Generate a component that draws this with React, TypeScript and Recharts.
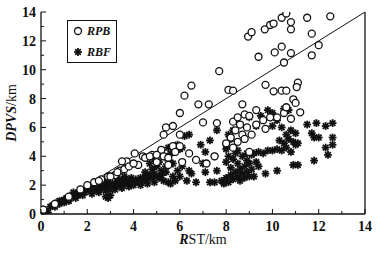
import React from "react";
import { ScatterChart, Scatter, XAxis, YAxis, ReferenceLine } from "recharts";

const axisTicks = [0, 1, 2, 3, 4, 5, 6, 7, 8, 9, 10, 11, 12, 13, 14];
const diagonal = [{ x: 0, y: 0 }, { x: 14, y: 14 }];

const rpb: [number, number][] = [
  [10.4, 13.6], [10.6, 13.9], [11.5, 13.6], [12.5, 13.7], [10.8, 13.3], [10.8, 12.8],
  [9.67, 12.8], [9.9, 13.1], [10.05, 13.2], [8.95, 12.3], [9.1, 12.6], [11.7, 12.5],
  [12.0, 11.7], [10.4, 11.6], [10.1, 11.2], [10.8, 11.15], [11.7, 11.0], [9.4, 10.9],
  [10.5, 10.5], [7.7, 9.9], [6.5, 8.9], [6.2, 8.2], [6.0, 7.0], [6.8, 7.6], [7.25, 7.6],
  [8.1, 8.6], [8.3, 8.55], [9.7, 8.95], [10.05, 8.5], [10.4, 8.55], [10.6, 8.55],
  [11.1, 9.1], [11.05, 8.8], [10.9, 7.95], [11.0, 7.7], [11.2, 7.05], [10.8, 6.6],
  [8.7, 7.6], [9.3, 7.2], [6.0, 5.5], [5.4, 6.0], [5.7, 6.1], [5.3, 5.5], [7.0, 6.35],
  [7.6, 6.3], [4.05, 4.2], [3.7, 3.65], [3.5, 3.65], [4.2, 3.4], [4.4, 4.0], [4.8, 4.1],
  [5.2, 4.45], [5.7, 4.7], [6.0, 4.7], [6.7, 3.75], [7.15, 3.5], [7.5, 4.0], [6.4, 4.2],
  [8.3, 6.4], [8.5, 6.7], [8.8, 6.9], [9.0, 6.8], [8.6, 6.2], [8.9, 6.0], [8.4, 5.8],
  [8.7, 5.5], [9.1, 5.5], [8.2, 5.3], [8.5, 5.0], [8.0, 4.9], [8.8, 5.2], [9.3, 6.2],
  [9.6, 6.5], [9.9, 6.7], [10.2, 6.7], [10.5, 7.0], [10.6, 7.4], [9.7, 5.9], [9.0, 4.3],
  [8.3, 4.6], [2.0, 2.0], [2.3, 2.2], [2.6, 2.4], [2.9, 2.6], [3.2, 2.7], [3.4, 3.0],
  [3.6, 3.1], [3.8, 3.3], [3.3, 2.9], [4.5, 3.9], [4.7, 4.0], [5.0, 4.1], [5.3, 4.0],
  [5.5, 3.9], [5.8, 4.3], [5.0, 3.6], [5.5, 3.4], [6.1, 3.6], [4.0, 3.5], [3.0, 2.6],
  [2.5, 2.3], [1.7, 1.7], [1.2, 1.2], [0.6, 0.7], [0.1, 0.3],
];

const rbf: [number, number][] = [
  [0.05, 0.1], [0.1, 0.3], [0.2, 0.2], [0.3, 0.1], [0.15, 0.05],
  [0.4, 0.5], [0.5, 0.6], [0.6, 0.7], [0.7, 0.8], [0.8, 0.9], [0.9, 0.9], [1.0, 1.0], [0.8, 0.7], [1.0, 0.8], [0.6, 0.5],
  [1.1, 1.1], [1.2, 1.0], [1.3, 1.2], [1.4, 1.3], [1.5, 1.4], [1.6, 1.3], [1.7, 1.5], [1.8, 1.6], [1.9, 1.5], [2.0, 1.7],
  [1.2, 0.9], [1.5, 1.1], [1.8, 1.3], [1.4, 1.5], [1.7, 1.7],
  [2.1, 1.8], [2.2, 1.6], [2.3, 1.9], [2.4, 1.7], [2.5, 2.0], [2.6, 1.8], [2.7, 2.1], [2.8, 1.9], [2.9, 2.2], [3.0, 2.0],
  [2.2, 1.4], [2.5, 1.5], [2.8, 1.6], [3.0, 1.7], [2.9, 1.1], [2.8, 1.2], [3.0, 1.3], [2.4, 2.1], [2.7, 2.3],
  [3.1, 2.1], [3.2, 1.9], [3.3, 2.2], [3.4, 2.0], [3.5, 2.3], [3.6, 2.1], [3.7, 2.4], [3.8, 2.2], [3.9, 2.5], [4.0, 2.3],
  [3.2, 1.7], [3.5, 1.8], [3.8, 1.9], [4.0, 2.0], [3.6, 2.6], [3.3, 2.5],
  [4.1, 2.4], [4.2, 2.2], [4.3, 2.5], [4.4, 2.3], [4.5, 2.6], [4.6, 2.4], [4.7, 2.7], [4.8, 2.5], [4.9, 2.8], [5.0, 2.6],
  [4.3, 2.0], [4.6, 2.1], [4.9, 2.2], [4.5, 2.9], [4.8, 3.1], [5.0, 3.3], [4.7, 3.5], [4.9, 3.8],
  [5.1, 2.5], [5.2, 2.7], [5.3, 2.3], [5.4, 2.9], [5.5, 2.2], [5.6, 2.1], [5.8, 2.3], [5.2, 3.0], [5.4, 3.3], [5.1, 3.6],
  [5.5, 3.7], [5.3, 4.0], [5.6, 4.2], [5.2, 4.4], [5.5, 4.6], [5.7, 3.5], [5.9, 3.0], [6.0, 2.6], [5.8, 4.4], [5.9, 4.8], [5.7, 2.6],
  [6.0, 4.5], [6.1, 3.3], [6.2, 5.4], [6.4, 5.5], [6.5, 2.8], [6.3, 2.3], [6.7, 2.2], [6.9, 4.8], [7.1, 4.3], [7.0, 3.5],
  [7.1, 2.9], [7.3, 2.2], [7.5, 2.2], [7.6, 5.8], [7.3, 5.1], [7.6, 3.0], [7.5, 4.0], [6.1, 4.6], [6.4, 3.0],
  [7.8, 2.3], [7.9, 2.1], [8.0, 2.5], [8.1, 2.2], [8.2, 2.7], [8.3, 2.4], [8.4, 2.9], [8.5, 2.6], [8.6, 3.1], [8.7, 2.8],
  [8.8, 3.3], [8.9, 2.9], [9.0, 3.5], [9.1, 3.1], [9.2, 2.6], [8.2, 3.2], [8.0, 3.6], [8.3, 3.8], [8.5, 3.5], [8.7, 4.0],
  [8.9, 3.7], [9.1, 4.1], [9.3, 3.6], [8.4, 4.2], [8.1, 4.0], [8.6, 2.3], [8.8, 2.5], [9.4, 3.3], [9.0, 2.6], [8.5, 4.4],
  [8.9, 4.2], [8.0, 4.5], [8.2, 5.2], [8.1, 5.5], [8.3, 5.8], [8.0, 4.8],
  [9.2, 4.2], [9.4, 4.3], [9.6, 4.2], [9.8, 4.4], [10.0, 4.4], [10.2, 4.5], [10.4, 4.4], [10.6, 4.6], [10.8, 4.3], [10.5, 4.9],
  [10.7, 5.2], [10.9, 5.0], [11.0, 4.8], [10.6, 5.5], [10.8, 5.8], [11.0, 5.6], [10.4, 6.0], [10.0, 6.1], [10.2, 6.5], [9.0, 6.7],
  [9.5, 6.8], [9.8, 7.2], [10.0, 7.0], [10.5, 7.3], [10.7, 7.2], [9.3, 6.1], [9.7, 2.8], [10.2, 3.0], [10.9, 3.4], [11.1, 3.4],
  [11.8, 3.7], [11.5, 6.2], [11.9, 6.3], [12.3, 6.1], [12.6, 6.3], [11.7, 5.6], [11.8, 5.3], [12.0, 5.3], [12.6, 5.3], [12.6, 4.8],
  [12.3, 4.6], [12.4, 4.1], [11.1, 4.9], [10.3, 5.1],
];

const rpbData = rpb.map(([x, y]) => ({ x, y }));
const rbfData = rbf.map(([x, y]) => ({ x, y }));

const serif = "'Liberation Serif', 'DejaVu Serif', serif";

function OpenCircle(props: any) {
  const { cx, cy } = props;
  return <circle cx={cx} cy={cy} r={3.5} fill="#fff" stroke="#111" strokeWidth={1.3} />;
}

function Asterisk(props: any) {
  const { cx, cy } = props;
  const r = 3.9;
  const d = r * 0.72;
  return (
    <g stroke="#111" strokeWidth={1.8}>
      <line x1={cx - r} y1={cy} x2={cx + r} y2={cy} />
      <line x1={cx} y1={cy - r} x2={cx} y2={cy + r} />
      <line x1={cx - d} y1={cy - d} x2={cx + d} y2={cy + d} />
      <line x1={cx - d} y1={cy + d} x2={cx + d} y2={cy - d} />
    </g>
  );
}

// tick marks drawn inward, labels only on even values
function makeTick(side: "left" | "bottom" | "right" | "top") {
  return (props: any) => {
    const { x, y, payload } = props;
    const v = payload.value as number;
    const len = v % 2 === 0 ? 5 : 3;
    const label = v % 2 === 0 && (side === "left" || side === "bottom");
    if (side === "left") {
      const ax = x + 4;
      return (
        <g>
          <line x1={ax} y1={y} x2={ax + len} y2={y} stroke="#111" strokeWidth={1} />
          {label && (
            <text x={x - 1} y={y} dy={5} textAnchor="end" fontFamily={serif} fontWeight="bold" fontSize={14} fill="#111">
              {v}
            </text>
          )}
        </g>
      );
    }
    if (side === "bottom") {
      const ay = y - 4;
      return (
        <g>
          <line x1={x} y1={ay} x2={x} y2={ay - len} stroke="#111" strokeWidth={1} />
          {label && (
            <text x={x} y={y} dy={13} textAnchor="middle" fontFamily={serif} fontWeight="bold" fontSize={14} fill="#111">
              {v}
            </text>
          )}
        </g>
      );
    }
    if (side === "right") {
      const ax = x - 4;
      return <line x1={ax} y1={y} x2={ax - len} y2={y} stroke="#111" strokeWidth={1} />;
    }
    const ay = y + 4;
    return <line x1={x} y1={ay} x2={x} y2={ay + len} stroke="#111" strokeWidth={1} />;
  };
}

function XTitle(props: any) {
  const { viewBox } = props;
  const cx = viewBox.x + viewBox.width / 2;
  return (
    <text x={cx} y={viewBox.y + 30} textAnchor="middle" fontFamily={serif} fontSize={14} fill="#111">
      <tspan fontStyle="italic" fontWeight="bold">R</tspan>
      <tspan>ST/km</tspan>
    </text>
  );
}

function YTitle(props: any) {
  const { viewBox } = props;
  const cy = viewBox.y + viewBox.height / 2;
  const x = 16;
  return (
    <text x={x} y={cy} transform={`rotate(-90 ${x} ${cy})`} textAnchor="middle" fontFamily={serif} fontSize={14} fill="#111">
      <tspan fontStyle="italic" fontWeight="bold">DPVS</tspan>
      <tspan>/km</tspan>
    </text>
  );
}

function LegendBox() {
  return (
    <div
      style={{
        position: "absolute",
        left: 67,
        top: 20,
        width: 50,
        height: 43,
        border: "1px solid #111",
        background: "#fff",
        fontFamily: serif,
        fontWeight: "bold",
        fontStyle: "italic",
        fontSize: 12,
        color: "#111",
        boxSizing: "border-box",
      }}
    >
      <svg width={14} height={40} style={{ position: "absolute", left: 3, top: 0 }}>
        <OpenCircle cx={7} cy={10} />
        <Asterisk cx={7} cy={31} />
      </svg>
      <div style={{ position: "absolute", left: 19, top: 3 }}>RPB</div>
      <div style={{ position: "absolute", left: 19, top: 24 }}>RBF</div>
    </div>
  );
}

export default function App() {
  return (
    <div style={{ position: "absolute", left: 0, top: 0, width: 392, height: 254, background: "#fff" }}>
      <ScatterChart width={392} height={254} margin={{ top: 12, right: 26, left: 5, bottom: 0 }}>
        <XAxis
          xAxisId="b"
          type="number"
          dataKey="x"
          domain={[0, 14]}
          ticks={axisTicks}
          interval={0}
          tickSize={0}
          tickMargin={4}
          tick={makeTick("bottom")}
          axisLine={{ stroke: "#111", strokeWidth: 1.3 }}
          height={40}
          allowDataOverflow
          label={<XTitle />}
        />
        <XAxis
          xAxisId="t"
          orientation="top"
          type="number"
          domain={[0, 14]}
          ticks={axisTicks}
          interval={0}
          tickSize={0}
          tickMargin={4}
          tick={makeTick("top")}
          axisLine={{ stroke: "#111", strokeWidth: 1.3 }}
          height={0}
        />
        <YAxis
          yAxisId="l"
          type="number"
          dataKey="y"
          domain={[0, 14]}
          ticks={axisTicks}
          interval={0}
          tickSize={0}
          tickMargin={4}
          tick={makeTick("left")}
          axisLine={{ stroke: "#111", strokeWidth: 1.3 }}
          width={36}
          allowDataOverflow
          label={<YTitle />}
        />
        <YAxis
          yAxisId="r"
          orientation="right"
          type="number"
          domain={[0, 14]}
          ticks={axisTicks}
          interval={0}
          tickSize={0}
          tickMargin={4}
          tick={makeTick("right")}
          axisLine={{ stroke: "#111", strokeWidth: 1.3 }}
          width={1}
        />
        <ReferenceLine xAxisId="b" yAxisId="l" segment={diagonal} stroke="#111" strokeWidth={1} />
        <Scatter xAxisId="b" yAxisId="l" name="RBF" data={rbfData} shape={<Asterisk />} isAnimationActive={false} />
        <Scatter xAxisId="b" yAxisId="l" name="RPB" data={rpbData} shape={<OpenCircle />} isAnimationActive={false} />
      </ScatterChart>
      <LegendBox />
    </div>
  );
}
